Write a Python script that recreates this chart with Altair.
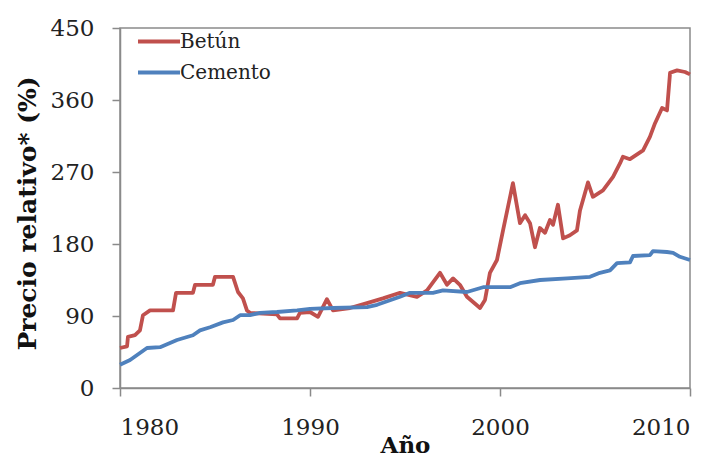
import altair as alt
import pandas as pd

# Betún series (year, relative price %)
betun_year = [1980.0, 1980.37, 1980.42, 1980.79, 1981.05, 1981.21, 1981.58, 1982.79, 1982.95,
              1983.84, 1983.95, 1984.89, 1985.0, 1985.95, 1986.21, 1986.47, 1986.68, 1986.84,
              1988.26, 1988.42, 1989.32, 1989.47, 1990.0, 1990.42, 1990.89, 1991.21, 1992.1,
              1993.0, 1993.84, 1994.74, 1995.63, 1996.16, 1996.84, 1997.21, 1997.53, 1997.89,
              1998.26, 1998.95, 1999.21, 1999.47, 1999.84, 2000.16, 2000.68, 2001.05, 2001.32,
              2001.58, 2001.84, 2002.1, 2002.37, 2002.63, 2002.79, 2003.05, 2003.32, 2003.68,
              2004.05, 2004.21, 2004.63, 2004.89, 2005.42, 2005.95, 2006.32, 2006.47, 2006.84,
              2007.53, 2007.89, 2008.16, 2008.53, 2008.79, 2008.95, 2009.32, 2009.74, 2010.0]
betun_value = [50, 52, 64, 66, 72, 91, 97, 97, 119,
               119, 129, 129, 139, 139, 120, 112, 97, 94,
               92, 87, 87, 94, 95, 89, 111, 97, 100,
               106, 112, 119, 114, 122, 144, 129, 137, 129,
               114, 100, 110, 144, 160, 197, 256, 206, 216,
               206, 176, 200, 194, 210, 204, 229, 187, 191,
               197, 222, 257, 239, 247, 264, 281, 289, 286,
               297, 314, 331, 350, 347, 394, 397, 395, 392]

# Cemento series (year, relative price %)
cemento_year = [1980.0, 1980.53, 1981.42, 1982.11, 1983.0, 1983.84, 1984.21, 1984.74, 1985.42,
                1985.95, 1986.32, 1986.84, 1987.37, 1988.26, 1989.32, 1990.0, 1991.21, 1993.0,
                1993.53, 1994.74, 1995.26, 1996.47, 1997.0, 1998.26, 1999.11, 2000.0, 2000.53,
                2001.05, 2002.11, 2003.53, 2004.74, 2005.26, 2005.79, 2006.16, 2006.84, 2007.0,
                2007.89, 2008.05, 2008.79, 2009.11, 2009.47, 2010.0]
cemento_value = [29, 35, 50, 51, 60, 66, 72, 76, 82,
                 85, 91, 91, 94, 95, 97, 99, 100, 101,
                 104, 114, 119, 119, 122, 120, 126, 126, 126,
                 131, 135, 137, 139, 144, 147, 156, 157, 165,
                 166, 171, 170, 169, 164, 160]

series_names = ["Betún", "Cemento"]
series_colors = ["#C0504D", "#4F81BD"]
x_ticks = [1980, 1990, 2000, 2010]
y_ticks = [0, 90, 180, 270, 360, 450]

df = pd.concat([
    pd.DataFrame({"Año": betun_year, "Precio": betun_value, "Serie": "Betún"}),
    pd.DataFrame({"Año": cemento_year, "Precio": cemento_value, "Serie": "Cemento"}),
], ignore_index=True)

FONT = "DejaVu Serif"
GRAY = "#8a8a8a"

chart = alt.Chart(df).mark_line(strokeWidth=3.8, strokeJoin="round").encode(
    x=alt.X("Año:Q",
            scale=alt.Scale(domain=[1980, 2010], nice=False, zero=False),
            axis=alt.Axis(values=x_ticks, format="d", title="Año",
                          labelPadding=20, titleY=57, titleBaseline="middle")),
    y=alt.Y("Precio:Q",
            scale=alt.Scale(domain=[0, 450], nice=False),
            axis=alt.Axis(values=y_ticks, title="Precio relativo* (%)",
                          labelPadding=18, titleX=-93, titleY=185, titleAngle=270,
                          titleAlign="center", titleBaseline="middle", titleFontSize=25)),
    color=alt.Color("Serie:N",
                    scale=alt.Scale(domain=series_names, range=series_colors),
                    legend=alt.Legend(title=None, orient="none", legendX=26.5, legendY=1,
                                      padding=0, symbolType="M-2,0H2", symbolSize=441,
                                      symbolStrokeWidth=3.8, labelOffset=8.5,
                                      labelFont=FONT, labelFontSize=20, labelColor="#222222",
                                      rowPadding=8)),
).properties(
    width=570, height=360,
    autosize=alt.AutoSizeParams(type="none"),
    padding={"left": 112, "top": 20, "right": 23, "bottom": 70},
).configure_view(
    stroke=GRAY, strokeWidth=1.5
).configure_axis(
    grid=False, domainColor=GRAY, domainWidth=1.5, tickColor=GRAY, tickWidth=1.5,
    tickSize=8, labelFont=FONT, labelFontSize=23, labelColor="#222222",
    titleFont=FONT, titleFontSize=23, titleFontWeight="bold", titleColor="#111111"
)

chart.save("out.html", embed_options={"renderer": "svg", "actions": False})
